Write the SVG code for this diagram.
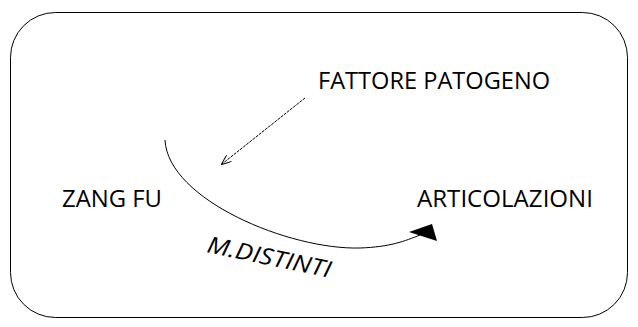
<svg xmlns="http://www.w3.org/2000/svg" width="638" height="327" viewBox="0 0 638 327">
<style>
.t{font-family:"Open Sans","Liberation Sans",sans-serif;font-size:23px;fill:#000}
.ln{fill:none;stroke:#000;stroke-width:1}
</style>
<defs>
<marker id="sm" markerWidth="10" markerHeight="8" refX="9" refY="4" orient="auto" markerUnits="userSpaceOnUse">
<path d="M0,0 L10,4 L0,8" fill="none" stroke="#000" stroke-width="1"/>
</marker>
</defs>
<rect width="638" height="327" fill="#fff"/>
<g id="frame"><rect x="10.5" y="12.5" width="617" height="305" rx="45" ry="45" class="ln"/></g>
<g id="fattore"><text class="t" x="318" y="89" textLength="232" lengthAdjust="spacingAndGlyphs">FATTORE PATOGENO</text></g>
<g id="zangfu"><text class="t" x="62" y="207" textLength="100" lengthAdjust="spacingAndGlyphs">ZANG FU</text></g>
<g id="articolazioni"><text class="t" x="417" y="207" textLength="176" lengthAdjust="spacingAndGlyphs">ARTICOLAZIONI</text></g>
<g id="connectors">
<path d="M305,98 L222,164" class="ln" stroke-dasharray="3,1" marker-end="url(#sm)"/>
<path d="M165,140 C168,200 290,250 360,248 C390,247 405,241 420,235" class="ln"/>
<polygon points="409,232 432,224 437,241"/>
<text class="t" font-style="italic" font-size="21" transform="translate(206,252) rotate(11.8)" textLength="126" lengthAdjust="spacingAndGlyphs">M.DISTINTI</text>
</g>
</svg>
